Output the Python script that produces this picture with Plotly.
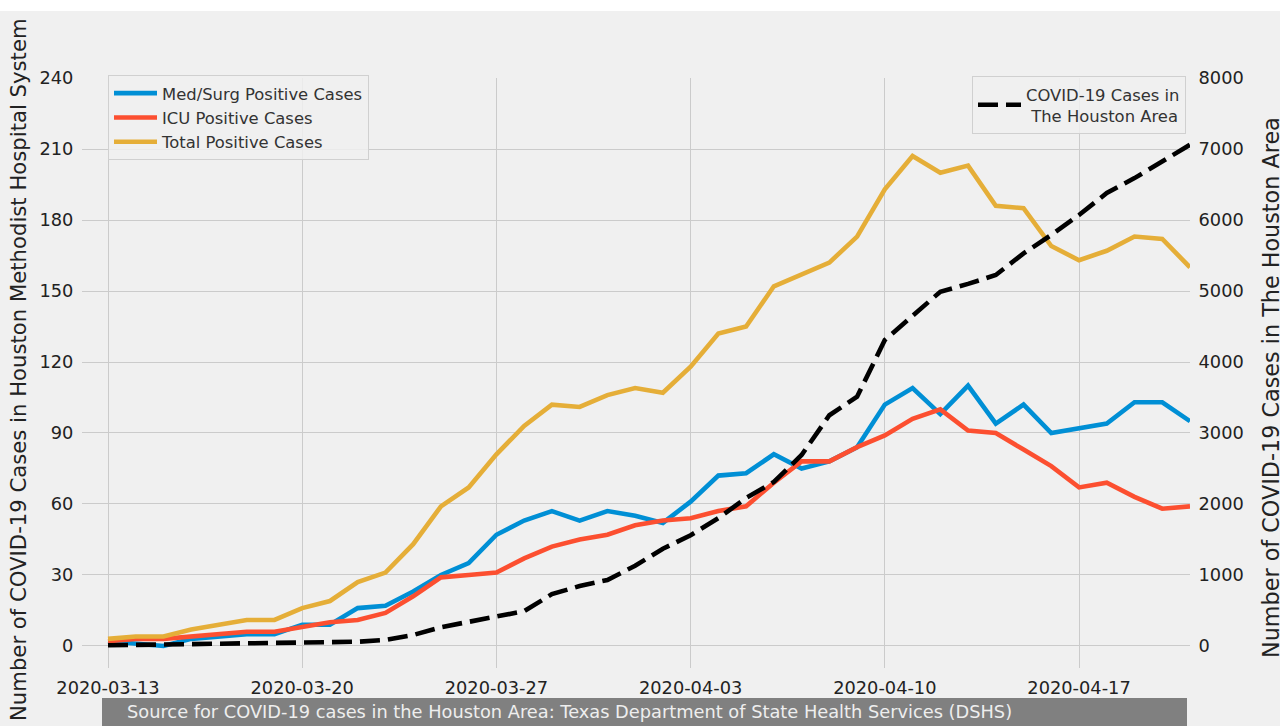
import pandas as pd
import plotly.graph_objects as go

# ---- data ----
dates = pd.date_range("2020-03-13", "2020-04-21", freq="D")

med_surg = [2, 1, 0, 3, 4, 5, 5, 9, 9, 16, 17, 23, 30, 35, 47, 53, 57, 53, 57, 55,
            52, 61, 72, 73, 81, 75, 78, 84, 102, 109, 98, 110, 94, 102, 90, 92, 94, 103, 103, 95]
icu = [2, 3, 3, 4, 5, 6, 6, 8, 10, 11, 14, 21, 29, 30, 31, 37, 42, 45, 47, 51,
       53, 54, 57, 59, 69, 78, 78, 84, 89, 96, 100, 91, 90, 83, 76, 67, 69, 63, 58, 59]
total = [3, 4, 4, 7, 9, 11, 11, 16, 19, 27, 31, 43, 59, 67, 81, 93, 102, 101, 106, 109,
         107, 118, 132, 135, 152, 157, 162, 173, 193, 207, 200, 203, 186, 185, 169, 163, 167, 173, 172, 160]
houston = [10, 15, 20, 25, 30, 30, 30, 40, 50, 60, 85, 155, 265, 340, 410, 490, 730, 845, 930, 1130,
           1370, 1560, 1800, 2085, 2310, 2690, 3250, 3510, 4310, 4640, 4990, 5100, 5225, 5530, 5790,
           6070, 6380, 6590, 6820, 7060]

left_ticks = [0, 30, 60, 90, 120, 150, 180, 210, 240]
right_ticks = [0, 1000, 2000, 3000, 4000, 5000, 6000, 7000, 8000]

BG = "#f0f0f0"
FONT = "DejaVu Sans"
TXT = "#222222"

# plot area in pixels
L, R, T, B = 82, 1190, 78, 668
W, H = 1280, 726
pw, ph = R - L, B - T

def px(x):
    return (x - L) / pw

def py(y):
    return (B - y) / ph

fig = go.Figure()
fig.add_trace(go.Scatter(x=dates, y=med_surg, mode="lines", name="Med/Surg Positive Cases",
                         line=dict(color="#008fd5", width=4.6), legend="legend"))
fig.add_trace(go.Scatter(x=dates, y=icu, mode="lines", name="ICU Positive Cases",
                         line=dict(color="#fc4f30", width=4.6), legend="legend"))
fig.add_trace(go.Scatter(x=dates, y=total, mode="lines", name="Total Positive Cases",
                         line=dict(color="#e5ae38", width=4.6), legend="legend"))
fig.add_trace(go.Scatter(x=dates, y=houston, mode="lines", yaxis="y2",
                         name="COVID-19 Cases in<br> The Houston Area",
                         line=dict(color="black", width=4.6, dash="20px,8px"), legend="legend2"))

fig.update_layout(
    width=W, height=H,
    margin=dict(l=L, r=W - R, t=T, b=H - B),
    paper_bgcolor=BG, plot_bgcolor=BG,
    font=dict(family=FONT, size=17.8, color=TXT),
    showlegend=True,
    xaxis=dict(
        range=["2020-03-12 01:30", "2020-04-21"],
        tickmode="linear", tick0="2020-03-13", dtick=7 * 86400000,
        tickformat="%Y-%m-%d", showgrid=True, gridcolor="#cbcbcb", gridwidth=1.3,
        zeroline=False, showline=False, ticks="outside", ticklen=4, tickcolor=BG,
        tickfont=dict(size=17.8, color=TXT),
    ),
    yaxis=dict(
        range=[-9.3, 240], tickmode="array", tickvals=left_ticks,
        showgrid=True, gridcolor="#cbcbcb", gridwidth=1.3, zeroline=False, showline=False,
        ticks="outside", ticklen=4, tickcolor=BG, tickfont=dict(size=17.8, color=TXT),
    ),
    yaxis2=dict(
        range=[-310, 8000], tickmode="array", tickvals=right_ticks, overlaying="y", side="right",
        showgrid=False, zeroline=False, showline=False,
        ticks="outside", ticklen=4, tickcolor=BG, tickfont=dict(size=17.8, color=TXT),
    ),
    legend=dict(
        x=px(108), y=py(75), xanchor="left", yanchor="top", itemwidth=43,
        bgcolor="rgba(240,240,240,0.85)", bordercolor="#d0d0d0", borderwidth=1,
        font=dict(family=FONT, size=16.4, color="#333333"), tracegroupgap=0,
    ),
    legend2=dict(
        x=px(1186), y=py(76), xanchor="right", yanchor="top", itemwidth=43,
        bgcolor="rgba(240,240,240,0.85)", bordercolor="#d0d0d0", borderwidth=1,
        font=dict(family=FONT, size=16.4, color="#333333"),
    ),
    shapes=[
        dict(type="rect", xref="paper", yref="paper", x0=px(0), x1=px(W), y0=py(11), y1=py(0),
             fillcolor="white", line=dict(width=0), layer="above"),
        dict(type="rect", xref="paper", yref="paper", x0=px(102), x1=px(1187), y0=py(726), y1=py(698),
             fillcolor="#808080", line=dict(width=0), layer="above"),
    ],
    annotations=[
        dict(text="Number of COVID-19 Cases in Houston Methodist Hospital System",
             xref="paper", yref="paper", x=px(18), y=py(370), xanchor="center", yanchor="middle",
             textangle=-90, showarrow=False, font=dict(family=FONT, size=21.2, color=TXT)),
        dict(text="Number of COVID-19 Cases in The Houston Area",
             xref="paper", yref="paper", x=px(1271), y=py(388), xanchor="center", yanchor="middle",
             textangle=-90, showarrow=False, font=dict(family=FONT, size=22.3, color=TXT)),
        dict(text="Source for COVID-19 cases in the Houston Area: Texas Department of State Health Services (DSHS)",
             xref="paper", yref="paper", x=px(125), y=py(711), xanchor="left", yanchor="middle",
             showarrow=False, font=dict(family=FONT, size=17.8, color="#eeeeee")),
    ],
)

fig.write_html(
    "out.html",
    config={"displayModeBar": False},
    post_script="document.body.style.margin='0';document.body.style.padding='0';",
)
